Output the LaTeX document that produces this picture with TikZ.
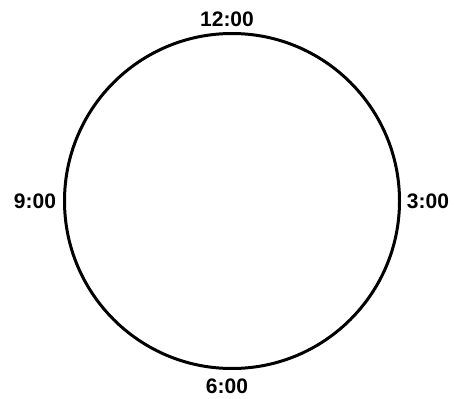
\documentclass[tikz,border=0pt]{standalone}
\usepackage{fontspec}
\setmainfont{Liberation Sans}
\begin{document}
\begin{tikzpicture}[x=1pt,y=-1pt,
  lbl/.style={font=\bfseries\fontsize{21}{24}\selectfont, inner sep=0pt, anchor=center},
  dial/.style={draw=black, line width=3pt, circle, minimum size=335pt, inner sep=0pt}]
\useasboundingbox (0,0) rectangle (454,398);
\node[dial] (clock) at (232,201) {};
\node[lbl] (t12) at (227,19) {12:00};
\node[lbl] (t9) at (35,201) {9:00};
\node[lbl] (t3) at (428,201) {3:00};
\node[lbl] (t6) at (227,386) {6:00};
\end{tikzpicture}
\end{document}
